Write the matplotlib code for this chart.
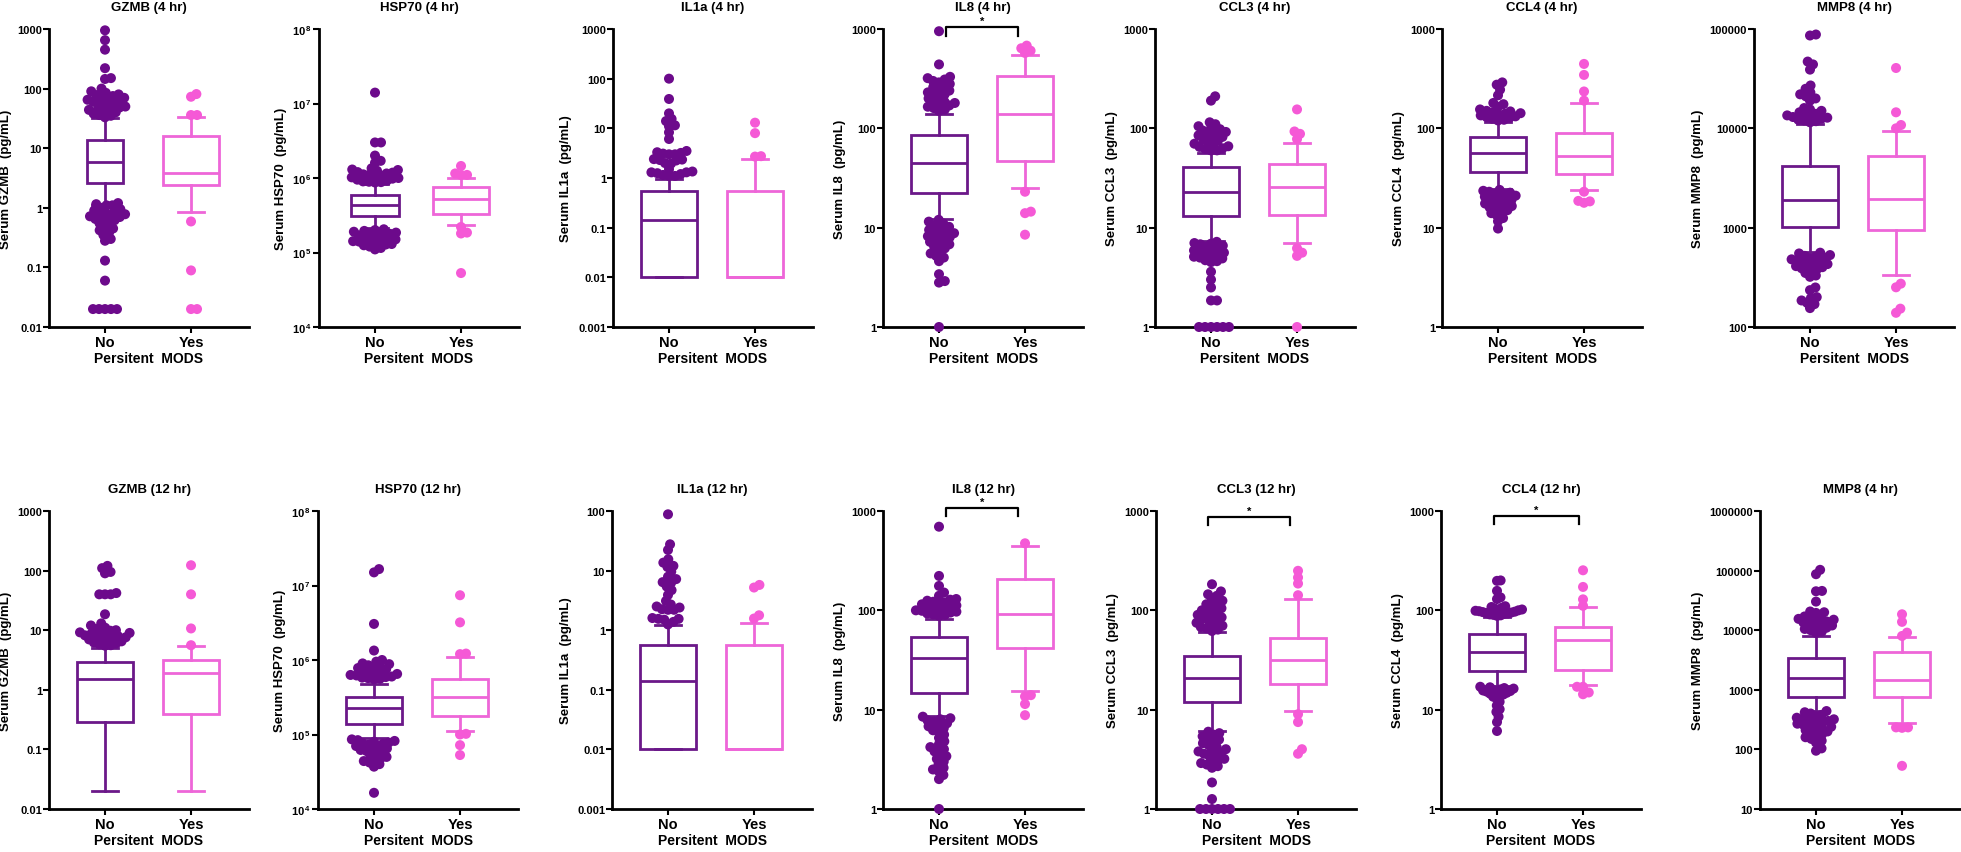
import numpy as np
import matplotlib
matplotlib.use("Agg")
import matplotlib.pyplot as plt
import matplotlib.transforms as mtransforms
from matplotlib.ticker import FixedLocator, NullLocator, FuncFormatter

plt.rcParams["font.family"] = ["Liberation Sans", "DejaVu Sans"]
plt.rcParams["font.weight"] = "bold"
plt.rcParams["mathtext.fontset"] = "custom"
plt.rcParams["mathtext.rm"] = "Liberation Sans:bold"
plt.rcParams["mathtext.bf"] = "Liberation Sans:bold"
plt.rcParams["mathtext.it"] = "Liberation Sans:bold"

groups = ["No", "Yes"]
x_title = "Persitent  MODS"

# box stats are [whisker low, q1, median, q3, whisker high]
# ---- 4 hr row ----
gzmb4_no_box = [1.1, 2.6, 5.8, 13.5, 32]
gzmb4_yes_box = [0.85, 2.45, 3.9, 16, 33]
gzmb4_no_pts = [950, 650, 450, 220, 150, 145, 100,
                90, 85, 80, 78, 75, 72, 70, 68, 65, 62, 60, 58, 56, 55, 50, 48, 46, 45, 44, 42, 40, 38, 36, 35, 33,
                1.2, 1.15, 1.1, 1.1, 1.0, 0.95, 0.9, 0.88, 0.85, 0.8, 0.78, 0.75, 0.72, 0.7, 0.68, 0.65, 0.62,
                0.6, 0.55, 0.5, 0.45, 0.42, 0.38, 0.35, 0.3, 0.28,
                0.13, 0.06, 0.02, 0.02, 0.02, 0.02, 0.02]
gzmb4_yes_pts = [81, 73, 36, 36, 0.59, 0.089, 0.02, 0.02]

hsp4_no_box = [2.1e5, 3.1e5, 4.4e5, 6.0e5, 8.4e5]
hsp4_yes_box = [2.35e5, 3.3e5, 5.3e5, 7.5e5, 1.0e6]
hsp4_no_pts = [1.4e7, 3.0e6, 3.0e6, 2.0e6, 1.7e6, 1.6e6,
               1.35e6, 1.3e6, 1.28e6, 1.25e6, 1.2e6, 1.18e6, 1.15e6, 1.12e6, 1.1e6, 1.08e6, 1.05e6, 1.02e6,
               1.0e6, 9.8e5, 9.5e5, 9.2e5, 9.0e5, 8.9e5, 8.8e5, 8.7e5,
               2.05e5, 2.0e5, 1.95e5, 1.9e5, 1.85e5, 1.8e5, 1.78e5, 1.75e5, 1.7e5, 1.65e5, 1.6e5, 1.55e5,
               1.5e5, 1.48e5, 1.45e5, 1.42e5, 1.4e5, 1.35e5, 1.3e5, 1.28e5, 1.25e5, 1.2e5, 1.15e5, 1.1e5]
hsp4_yes_pts = [1.45e6, 1.1e6, 1.1e6, 1.15e6, 2.2e5, 1.8e5, 1.85e5, 5.3e4]

il1a4_no_box = [0.01, 0.0102, 0.14, 0.56, 0.95]
il1a4_yes_box = [0.01, 0.01, 0.01, 0.56, 2.4]
il1a4_no_pts = [100, 39, 20, 15.5, 14, 11.5, 11, 8.3, 6.1, 3.5, 3.3, 3.2, 3.1, 3.0, 3.0, 2.4, 2.35, 2.3,
                2.25, 2.0, 1.95, 1.5, 1.35, 1.3, 1.3, 1.25, 1.2, 1.15, 1.1, 1.1]
il1a4_yes_pts = [13, 8, 2.75, 2.7]

il84_no_box = [12.3, 22.4, 45, 85, 140]
il84_yes_box = [25.3, 46.4, 139, 334, 548]
il84_no_pts = [950, 440,
               330, 320, 310, 300, 290, 280, 270, 260, 250, 240, 230, 225, 220, 210, 200, 190, 185, 180,
               175, 170, 165, 160, 155, 150,
               12, 11.5, 11, 10.5, 10.2, 10, 9.5, 9.2, 9, 8.8, 8.5, 8.2, 8, 7.8, 7.5, 7.2, 7, 6.8, 6.5,
               6.2, 6, 5.5, 5.2, 5, 4.6, 3.4, 2.9, 2.8, 1.0]
il84_yes_pts = [640, 574, 605, 680, 23, 14.5, 14, 8.5]

ccl34_no_box = [7.4, 13, 22.8, 40.6, 57]
ccl34_yes_box = [7.0, 13.5, 25.6, 44, 72]
ccl34_no_pts = [210, 190,
                115, 110, 105, 100, 98, 95, 92, 90, 88, 85, 82, 80, 78, 75, 72, 70, 68, 66, 65, 63, 62, 60, 60,
                7.2, 7, 6.9, 6.8, 6.6, 6.4, 6.2, 6, 5.9, 5.8, 5.6, 5.5, 5.4, 5.2, 5.1, 5, 4.9, 4.7, 4.6, 4.5,
                3.6, 3.0, 2.5, 1.85, 1.85, 1, 1, 1, 1, 1, 1]
ccl34_yes_pts = [155, 93, 88, 78, 6.2, 5.2, 5.6, 1.0]

ccl44_no_box = [24.6, 36.3, 56, 81.5, 115]
ccl44_yes_box = [24, 34.8, 53, 90, 180]
ccl44_no_pts = [290, 275, 245, 215, 180, 175, 165, 155, 150, 148, 145, 142, 140, 138, 135, 132, 130, 128,
                125, 122, 120,
                24, 23.5, 23, 22.5, 22, 21.5, 21, 20.5, 20, 19.5, 19, 18.5, 18, 17.5, 17, 16.5, 16, 15.5,
                15, 14.5, 14, 13.3, 12.5, 11.6, 9.8]
ccl44_yes_pts = [445, 345, 235, 190, 23, 18.4, 18.6, 17.8]

mmp84_no_box = [570, 1004, 1900, 4160, 11000]
mmp84_yes_box = [336, 937, 1950, 5250, 9300]
mmp84_no_pts = [88000, 86000, 47000, 44000, 39000, 27000, 25000, 23000, 22000, 21000, 20000, 19000,
                16000, 15500, 15000, 14500, 14000, 13800, 13500, 13200, 13000, 12800, 12500, 12200, 12000,
                11800, 11500,
                560, 550, 530, 520, 510, 500, 490, 480, 470, 460, 450, 440, 430, 420, 410, 400, 390, 380,
                370, 350, 330, 320, 250, 235, 200, 195, 185, 175, 170, 155]
mmp84_yes_pts = [40500, 14500, 10000, 10800, 251, 273, 153, 139]

# ---- 12 hr row ----
gzmb12_no_box = [0.02, 0.29, 1.5, 2.95, 5.0]
gzmb12_yes_box = [0.02, 0.39, 1.95, 3.2, 5.4]
gzmb12_no_pts = [120, 110, 95, 90, 42, 40, 40, 40, 18.5,
                 13, 12, 11, 10.5, 10, 9.8, 9.5, 9.2, 9, 8.8, 8.5, 8.2, 8, 7.8, 7.6, 7.5, 7.2, 7, 6.8, 6.5,
                 6.2, 6, 5.8, 5.6, 5.5]
gzmb12_yes_pts = [123, 40, 10.7, 5.6]

hsp12_no_box = [9.0e4, 1.37e5, 2.3e5, 3.2e5, 4.8e5]
hsp12_yes_box = [1.1e5, 1.77e5, 3.2e5, 5.5e5, 1.1e6]
hsp12_no_pts = [1.66e7, 1.5e7, 3.05e6, 1.34e6,
                1.0e6, 9.5e5, 9.0e5, 8.8e5, 8.5e5, 8.2e5, 8.0e5, 7.8e5, 7.5e5, 7.2e5, 7.0e5, 6.8e5, 6.6e5,
                6.5e5, 6.3e5, 6.2e5, 6.0e5, 5.9e5, 5.8e5, 5.7e5, 5.6e5, 5.5e5,
                8.6e4, 8.4e4, 8.2e4, 8.0e4, 7.8e4, 7.6e4, 7.5e4, 7.3e4, 7.0e4, 6.8e4, 6.5e4, 6.3e4, 6.2e4,
                6.0e4, 5.8e4, 5.5e4, 5.2e4, 5.0e4, 4.8e4, 4.6e4, 4.4e4, 4.2e4, 4.0e4, 3.7e4, 1.65e4]
hsp12_yes_pts = [7.4e6, 3.2e6, 1.22e6, 1.2e6, 1.0e5, 1.02e5, 7.2e4, 5.3e4]

il1a12_no_box = [0.01, 0.0102, 0.14, 0.56, 1.23]
il1a12_yes_box = [0.01, 0.01, 0.01, 0.56, 1.31]
il1a12_no_pts = [88, 27.6, 22.2, 15.5, 13.6, 12, 11.5, 9.6, 7.9, 7.2, 6.4, 6.3, 5.4, 4.7, 3.9, 3.1, 2.7,
                 2.5, 2.4, 2.25, 2.2, 2.2, 1.6, 1.55, 1.55, 1.5, 1.38, 1.25]
il1a12_yes_pts = [5.2, 5.75, 1.57, 1.78]

il812_no_box = [8.7, 14.7, 33, 54.5, 82]
il812_yes_box = [15.5, 41.3, 91.5, 209, 445]
il812_no_pts = [695, 222, 176, 151, 140, 130, 128, 125, 122, 120, 118, 115, 112, 110, 108, 106, 104, 102,
                100, 99, 97, 95, 93, 91, 90, 88,
                8.5, 8.2, 8, 7.8, 7.6, 7.3, 7, 6.8, 6.5, 6.2, 6, 5.6, 5.2, 4.8, 4.5, 4.2, 4, 3.8, 3.6, 3.4,
                3.2, 3, 2.8, 2.6, 2.5, 2.4, 2.2, 2.0, 1.0]
il812_yes_pts = [473, 14, 13.6, 11.4, 8.8]

ccl312_no_box = [6.1, 12, 21, 34.3, 60]
ccl312_yes_box = [9.8, 18.1, 31.5, 53.2, 131]
ccl312_no_pts = [183, 155, 145, 140, 130, 125, 120, 115, 110, 105, 100, 98, 95, 90, 88, 85, 82, 80, 78,
                 75, 72, 70, 68, 66, 64, 62,
                 6.0, 5.8, 5.6, 5.4, 5.2, 5.0, 4.8, 4.6, 4.4, 4.2, 4.0, 3.9, 3.8, 3.7, 3.6, 3.5, 3.4, 3.2,
                 3.1, 3.0, 2.9, 2.8, 2.7, 2.6, 1.85, 1.26, 1, 1, 1, 1, 1, 1]
ccl312_yes_pts = [250, 214, 186, 142, 9.0, 7.5, 4.0, 3.6]

ccl412_no_box = [17.4, 24.6, 38.5, 57.5, 85]
ccl412_yes_box = [17.7, 24.8, 50, 68.7, 108]
ccl412_no_pts = [200, 198, 157, 135, 130, 110, 108, 106, 104, 102, 100, 100, 99, 98, 97, 96, 95, 94, 93,
                 92, 91, 90, 89, 88,
                 17, 16.8, 16.5, 16.3, 16, 15.8, 15.6, 15.4, 15.2, 15, 14.8, 14.5, 14.2, 14, 13.5, 13, 12,
                 11, 10.1, 9.5, 8.5, 7.5, 6.1]
ccl412_yes_pts = [253, 172, 129, 111, 17, 17, 14.9, 14.3]

mmp812_no_box = [445, 745, 1550, 3480, 8000]
mmp812_yes_box = [276, 745, 1470, 4390, 7730]
mmp812_no_pts = [103000, 87000, 45600, 45000, 30200, 20600, 20000, 19500, 17000, 16500, 16000, 15500,
                 15000, 14500, 14000, 13500, 13000, 12500, 12000, 11500, 11000, 10500, 10000, 9500, 9000,
                 440, 420, 400, 380, 360, 340, 330, 320, 310, 300, 290, 280, 270, 260, 250, 240, 230, 220,
                 210, 200, 190, 180, 170, 160, 150, 140, 130, 104, 95]
mmp812_yes_pts = [18500, 13800, 9100, 8000, 234, 234, 230, 53]

panels = [
    ("GZMB (4 hr)", "Serum GZMB  (pg/mL)", (1e-2, 1e3), gzmb4_no_box, gzmb4_yes_box, gzmb4_no_pts, gzmb4_yes_pts),
    ("HSP70 (4 hr)", "Serum HSP70  (pg/mL)", (1e4, 1e8), hsp4_no_box, hsp4_yes_box, hsp4_no_pts, hsp4_yes_pts),
    ("IL1a (4 hr)", "Serum IL1a  (pg/mL)", (1e-3, 1e3), il1a4_no_box, il1a4_yes_box, il1a4_no_pts, il1a4_yes_pts),
    ("IL8 (4 hr)", "Serum IL8  (pg/mL)", (1, 1e3), il84_no_box, il84_yes_box, il84_no_pts, il84_yes_pts),
    ("CCL3 (4 hr)", "Serum CCL3  (pg/mL)", (1, 1e3), ccl34_no_box, ccl34_yes_box, ccl34_no_pts, ccl34_yes_pts),
    ("CCL4 (4 hr)", "Serum CCL4  (pg/mL)", (1, 1e3), ccl44_no_box, ccl44_yes_box, ccl44_no_pts, ccl44_yes_pts),
    ("MMP8 (4 hr)", "Serum MMP8  (pg/mL)", (1e2, 1e5), mmp84_no_box, mmp84_yes_box, mmp84_no_pts, mmp84_yes_pts),
    ("GZMB (12 hr)", "Serum GZMB  (pg/mL)", (1e-2, 1e3), gzmb12_no_box, gzmb12_yes_box, gzmb12_no_pts, gzmb12_yes_pts),
    ("HSP70 (12 hr)", "Serum HSP70  (pg/mL)", (1e4, 1e8), hsp12_no_box, hsp12_yes_box, hsp12_no_pts, hsp12_yes_pts),
    ("IL1a (12 hr)", "Serum IL1a  (pg/mL)", (1e-3, 1e2), il1a12_no_box, il1a12_yes_box, il1a12_no_pts, il1a12_yes_pts),
    ("IL8 (12 hr)", "Serum IL8  (pg/mL)", (1, 1e3), il812_no_box, il812_yes_box, il812_no_pts, il812_yes_pts),
    ("CCL3 (12 hr)", "Serum CCL3  (pg/mL)", (1, 1e3), ccl312_no_box, ccl312_yes_box, ccl312_no_pts, ccl312_yes_pts),
    ("CCL4 (12 hr)", "Serum CCL4  (pg/mL)", (1, 1e3), ccl412_no_box, ccl412_yes_box, ccl412_no_pts, ccl412_yes_pts),
    ("MMP8 (4 hr)", "Serum MMP8  (pg/mL)", (10, 1e6), mmp812_no_box, mmp812_yes_box, mmp812_no_pts, mmp812_yes_pts),
]

# layout / style (pixels of the 1961x853 canvas)
W, H = 1961, 853
left_px = [49, 319, 613, 883, 1155, 1442, 1754, 49, 318, 612, 883, 1156, 1441, 1760]
top_px = [30] * 7 + [512] * 7
ax_w, ax_h = 200, 298
no_widths = [0.43, 0.55] + [0.65] * 12
sci_panels = {1, 8}
# significance bars: panel -> (x0, x1, bar y, leg y, star y) in data-x / axes-y
sig_bars = {
    3: (0.08, 0.92, 1.006, 0.977, 1.028),
    10: (0.08, 0.92, 1.009, 0.984, 1.031),
    11: (-0.05, 0.91, 0.979, 0.953, 1.002),
    12: (-0.04, 0.95, 0.982, 0.956, 1.005),
}
dot_col = ["#6c0a8b", "#f559d6"]
box_col = ["#6b1889", "#ee66d8"]
xlim = (-0.651, 1.674)
swarm_gap = 6.0      # px between dot centres
swarm_half = 25.0    # px, widest spread of a group


def swarm(ys, d):
    # simple beeswarm in pixel space, returns x offsets in pixels
    xs = np.zeros(len(ys))
    placed = []
    for i in np.argsort(ys):
        y = ys[i]
        near = [(px, py) for px, py in placed if abs(py - y) < d]
        cands = [0.0]
        for px, py in near:
            dx = np.sqrt(d * d - (py - y) ** 2)
            cands += [px + dx, px - dx]
        cands.sort(key=abs)
        for c in cands:
            if all((c - px) ** 2 + (y - py) ** 2 >= d * d - 1e-6 for px, py in near):
                xs[i] = c
                break
        placed.append((xs[i], y))
    return xs


def plain_fmt(v, pos):
    return np.format_float_positional(v, trim="-")


def sci_fmt(v, pos):
    return r"$10^{\,%d}$" % int(round(np.log10(v)))


fig = plt.figure(figsize=(W / 100, H / 100), dpi=100)

for k, (title, ylab, ylim, no_box, yes_box, no_pts, yes_pts) in enumerate(panels):
    ax = fig.add_axes([left_px[k] / W, 1 - (top_px[k] + ax_h) / H, ax_w / W, ax_h / H])
    ax.set_yscale("log")
    ax.set_ylim(*ylim)
    ax.set_xlim(*xlim)

    stats = []
    for b in (no_box, yes_box):
        stats.append(dict(whislo=b[0], q1=b[1], med=b[2], q3=b[3], whishi=b[4], fliers=[]))
    art = ax.bxp(stats, positions=[0, 1], widths=[no_widths[k], 0.65], capwidths=0.3,
                 showfliers=False, patch_artist=True, manage_ticks=False)
    for j in range(2):
        art["boxes"][j].set(facecolor="none", edgecolor=box_col[j], linewidth=2)
        art["medians"][j].set(color=box_col[j], linewidth=2)
        for part in ("whiskers", "caps"):
            for line in art[part][2 * j:2 * j + 2]:
                line.set(color=box_col[j], linewidth=2)

    # dots spread sideways like a swarm, squeezed to a fixed width
    px_per_x = ax_w / (xlim[1] - xlim[0])
    for j, pts in enumerate((no_pts, yes_pts)):
        vals = np.array(pts, dtype=float)
        ypx = ax.transData.transform(np.column_stack([np.zeros(len(vals)), vals]))[:, 1]
        xoff = swarm(ypx, swarm_gap)
        widest = np.abs(xoff).max()
        if widest > swarm_half:
            xoff = xoff * swarm_half / widest
        ax.scatter(j + xoff / px_per_x, vals, s=52, color=dot_col[j], edgecolors="none",
                   zorder=3, clip_on=False)

    decades = np.arange(int(round(np.log10(ylim[0]))), int(round(np.log10(ylim[1]))) + 1)
    ax.yaxis.set_major_locator(FixedLocator(10.0 ** decades))
    ax.yaxis.set_minor_locator(NullLocator())
    ax.yaxis.set_major_formatter(FuncFormatter(sci_fmt if k in sci_panels else plain_fmt))
    ax.set_xticks([0, 1])
    ax.set_xticklabels(groups, fontsize=10.5, fontweight="bold")

    for s in ("top", "right"):
        ax.spines[s].set_visible(False)
    for s in ("left", "bottom"):
        ax.spines[s].set_linewidth(2)
    ax.tick_params(axis="y", direction="out", length=4, width=1.5, labelsize=8, pad=1)
    ax.tick_params(axis="x", direction="out", length=4, width=1.5, pad=1.5)

    ax.set_title(title, fontsize=9.5, fontweight="bold", pad=14)
    ax.set_ylabel(ylab, fontsize=9.5, fontweight="bold", labelpad=4)
    ax.set_xlabel(x_title, fontsize=10, fontweight="bold", labelpad=2)

    if k in sig_bars:
        x0, x1, yb, yl, ys = sig_bars[k]
        tr = mtransforms.blended_transform_factory(ax.transData, ax.transAxes)
        ax.plot([x0, x0, x1, x1], [yl, yb, yb, yl], color="black", lw=1.6, transform=tr, clip_on=False)
        ax.text((x0 + x1) / 2, ys, "*", fontsize=8, ha="center", va="center", transform=tr)

fig.savefig("out.png", dpi=100, facecolor="white")
